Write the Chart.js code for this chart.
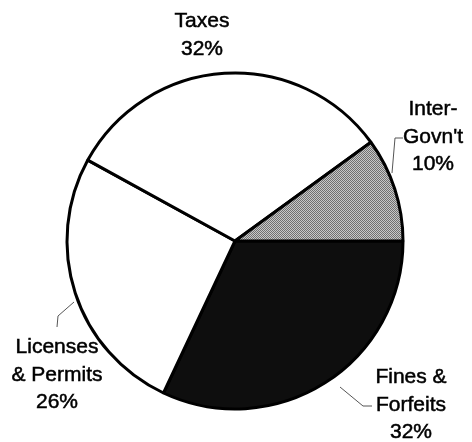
<!DOCTYPE html>
<html>
<head>
<meta charset="utf-8">
<script src="https://cdn.jsdelivr.net/npm/chart.js@4/dist/chart.umd.min.js"></script>
<style>
  html, body { margin: 0; padding: 0; background: #ffffff; }
  #wrap { width: 472px; height: 442px; }
</style>
</head>
<body>
<div id="wrap"><canvas id="c" width="472" height="442"></canvas></div>
<script>
// Revenue sources, in clockwise order starting from 3 o'clock
const categories = ['Fines &\nForfeits', 'Licenses\n& Permits', 'Taxes', 'Inter-\nGovn\'t'];
const shares = [32, 26, 32, 10];

// Fine checkered screen for the grey slice, like a printed halftone
function screenPattern() {
  const p = document.createElement('canvas');
  p.width = 2; p.height = 2;
  const g = p.getContext('2d');
  g.fillStyle = '#c8c8c8'; g.fillRect(0, 0, 2, 2);
  g.fillStyle = '#707070'; g.fillRect(0, 0, 1, 1); g.fillRect(1, 1, 1, 1);
  return document.getElementById('c').getContext('2d').createPattern(p, 'repeat');
}
const sliceColors = ['#0e0e0e', '#ffffff', '#ffffff', screenPattern()];

// Where each label block sits and the leader line (if any) that points at its slice
const labelLayout = [
  { x: 411, y: 383, leader: [[340, 387], [363, 406], [372, 406]] },
  { x: 57,  y: 353, leader: [[74, 302], [58, 316], [57, 327]] },
  { x: 202, y: 27,  leader: null },
  { x: 433, y: 115, leader: [[392, 173], [395, 138], [403, 138]] }
];

const sliceLabels = {
  id: 'sliceLabels',
  afterDraw(chart) {
    const ctx = chart.ctx;
    const data = chart.data.datasets[0].data;
    ctx.save();
    ctx.font = '21px "Liberation Sans", Arial, sans-serif';
    ctx.fillStyle = '#000000';
    ctx.strokeStyle = '#000000';
    ctx.lineWidth = 0.5;
    ctx.textAlign = 'center';
    ctx.textBaseline = 'alphabetic';
    chart.data.labels.forEach((lab, i) => {
      const pos = labelLayout[i];
      const lines = lab.split('\n').concat([data[i] + '%']);
      lines.forEach((t, k) => {
        ctx.fillText(t, pos.x, pos.y + k * 27.5);
        ctx.strokeText(t, pos.x, pos.y + k * 27.5);
      });
    });
    ctx.strokeStyle = '#555555';
    ctx.lineWidth = 1;
    labelLayout.forEach(pos => {
      if (!pos.leader) return;
      ctx.beginPath();
      pos.leader.forEach((p, k) => k ? ctx.lineTo(p[0], p[1]) : ctx.moveTo(p[0], p[1]));
      ctx.stroke();
    });
    ctx.restore();
  }
};

new Chart(document.getElementById('c'), {
  type: 'pie',
  data: {
    labels: categories,
    datasets: [{
      data: shares,
      backgroundColor: sliceColors,
      borderColor: '#000000',
      borderWidth: 3,
      hoverOffset: 0,
      offset: 0
    }]
  },
  options: {
    responsive: false,
    animation: false,
    rotation: 90,
    radius: 168,
    layout: { padding: { left: 60, right: 62, top: 60, bottom: 20 } },
    plugins: {
      legend: { display: false },
      tooltip: { enabled: false }
    },
    events: []
  },
  plugins: [sliceLabels]
});
</script>
</body>
</html>
